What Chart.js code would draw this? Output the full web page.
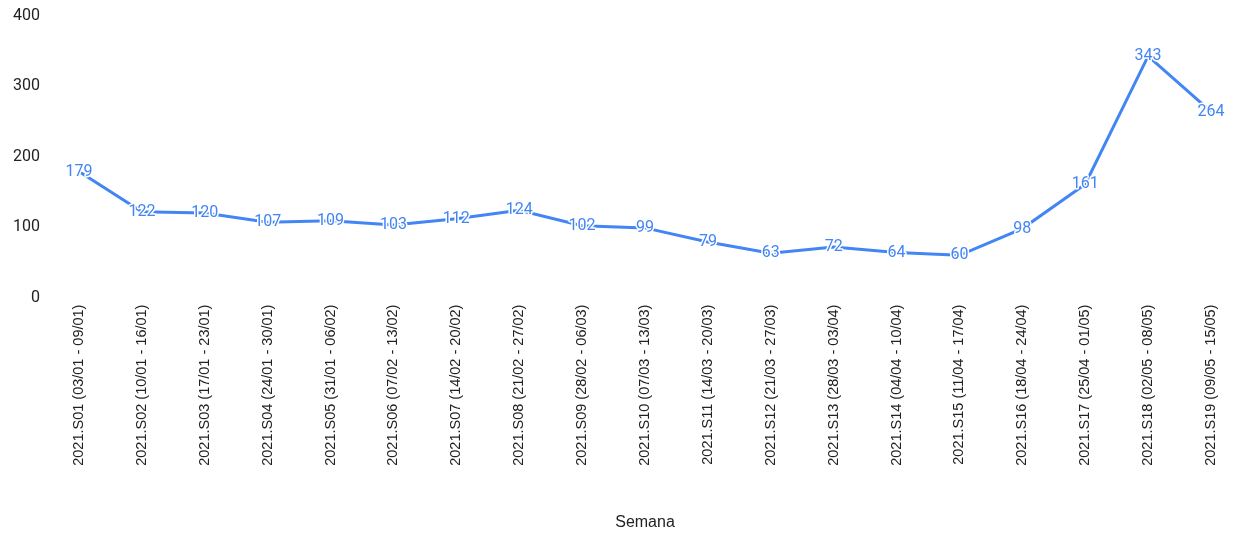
<!DOCTYPE html>
<html>
<head>
<meta charset="utf-8">
<script src="https://cdn.jsdelivr.net/npm/chart.js@4.4.0/dist/chart.umd.min.js"></script>
<style>
  html, body { margin: 0; padding: 0; background: #fff; }
  #wrap { width: 1236px; height: 534px; }
</style>
</head>
<body>
<div id="wrap"><canvas id="chart"></canvas></div>
<script>
const weeks = [
  "2021.S01 (03/01 - 09/01)", "2021.S02 (10/01 - 16/01)", "2021.S03 (17/01 - 23/01)",
  "2021.S04 (24/01 - 30/01)", "2021.S05 (31/01 - 06/02)", "2021.S06 (07/02 - 13/02)",
  "2021.S07 (14/02 - 20/02)", "2021.S08 (21/02 - 27/02)", "2021.S09 (28/02 - 06/03)",
  "2021.S10 (07/03 - 13/03)", "2021.S11 (14/03 - 20/03)", "2021.S12 (21/03 - 27/03)",
  "2021.S13 (28/03 - 03/04)", "2021.S14 (04/04 - 10/04)", "2021.S15 (11/04 - 17/04)",
  "2021.S16 (18/04 - 24/04)", "2021.S17 (25/04 - 01/05)", "2021.S18 (02/05 - 08/05)",
  "2021.S19 (09/05 - 15/05)"
];
const counts = [179, 122, 120, 107, 109, 103, 112, 124, 102, 99, 79, 63, 72, 64, 60, 98, 161, 343, 264];
const yTicks = [0, 100, 200, 300, 400];

const blue = "#4285F4";

// value labels centred on each point, with a white halo
const pointLabels = {
  id: "pointLabels",
  afterDatasetsDraw(chart) {
    const ctx = chart.ctx;
    const meta = chart.getDatasetMeta(0);
    ctx.save();
    ctx.font = "16px Roboto";
    ctx.textAlign = "center";
    ctx.textBaseline = "middle";
    ctx.lineJoin = "round";
    meta.data.forEach((pt, i) => {
      const txt = String(counts[i]);
      ctx.strokeStyle = "#fff";
      ctx.lineWidth = 3;
      ctx.strokeText(txt, pt.x, pt.y);
      ctx.fillStyle = blue;
      ctx.fillText(txt, pt.x, pt.y);
    });
    ctx.restore();
  }
};

new Chart(document.getElementById("chart"), {
  type: "line",
  data: {
    labels: weeks,
    datasets: [
      {
        label: "Semana",
        data: counts,
        borderColor: blue,
        backgroundColor: "transparent",
        borderWidth: 3,
        pointRadius: 0,
        tension: 0,
      },
    ],
  },
  options: {
    responsive: true,
    maintainAspectRatio: false,
    animation: false,
    layout: {
      padding: { top: 0, right: 25, bottom: 2, left: 0 },
    },
    plugins: {
      legend: { display: false },
      tooltip: { enabled: false },
    },
    scales: {
      x: {
        type: "category",
        offset: false,
        grid: { display: false, drawTicks: false },
        border: { display: false },
        ticks: {
          autoSkip: false,
          maxRotation: 90,
          minRotation: 90,
          padding: 7,
          color: "#222",
          font: { family: "'Liberation Sans', Arial", size: 14.5 },
        },
        title: {
          display: true,
          text: "Semana",
          color: "#222",
          padding: { top: 40, bottom: 0 },
          font: { family: "'Liberation Sans', Arial", size: 16 },
        },
      },
      y: {
        min: 0,
        max: 400,
        afterBuildTicks: (scale) => {
          scale.ticks = yTicks.map((v) => ({ value: v }));
        },
        afterFit: (scale) => {
          scale.width = 79;
          scale.paddingTop = 16;
          scale.paddingBottom = 10;
        },
        grid: { display: false, drawTicks: false },
        border: { display: false },
        ticks: {
          padding: 39,
          color: "#222",
          font: { family: "Roboto", size: 16 },
        },
      },
    },
  },
  plugins: [pointLabels],
});
</script>
</body>
</html>
